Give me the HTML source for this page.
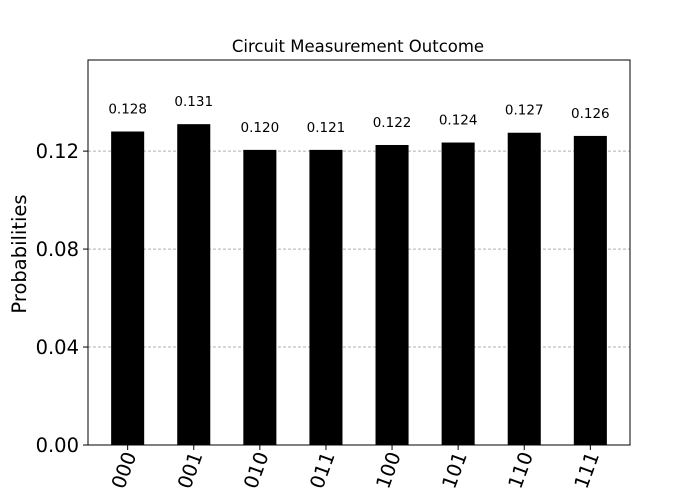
<!DOCTYPE html>
<html><head><meta charset="utf-8"><style>
body{margin:0;background:#fff;}
svg{display:block;font-family:"DejaVu Sans","Liberation Sans",sans-serif;}
</style></head><body>
<svg id="chart" width="700" height="500">
<text x="358" y="52" text-anchor="middle" font-size="16.5">Circuit Measurement Outcome</text>
<text transform="translate(26,254) rotate(-90)" text-anchor="middle" font-size="19.5">Probabilities</text>
<g id="grid"></g><g id="bars"></g><g id="labels"></g><g id="axes"></g>
</svg>
<script>
const categories=["000","001","010","011","100","101","110","111"];
const probabilities=[0.128,0.131,0.1205,0.1205,0.1225,0.1235,0.1275,0.1262];
const valueLabels=["0.128","0.131","0.120","0.121","0.122","0.124","0.127","0.126"];
const yTicks=[0,0.04,0.08,0.12];
const yTickLabels=["0.00","0.04","0.08","0.12"];
const L=88,R=630,T=60,B=445,NS="http://www.w3.org/2000/svg";
const yMax=0.131*1.2;
const xs=i=>L+(i+0.6)*(R-L)/(categories.length+0.2);
const ys=v=>B-v/yMax*(B-T);
const bw=0.5*(R-L)/(categories.length+0.2);
function mk(tag,attrs,parent){const e=document.createElementNS(NS,tag);for(const k in attrs)e.setAttribute(k,attrs[k]);document.getElementById(parent).appendChild(e);return e;}
yTicks.forEach((t,i)=>{
 if(t>0){const g=mk('line',{x1:L,x2:R,y1:ys(t),y2:ys(t),stroke:'#b0b0b0','stroke-dasharray':'3,2','stroke-width':1},'grid');
 
 }
 const tk=mk('line',{x1:L-5,x2:L,y1:ys(t),y2:ys(t),stroke:'#000'},'axes');
 
 
 const tl=mk('text',{x:L-9,y:ys(t)+7,'text-anchor':'end','font-size':19.5},'axes');tl.textContent=yTickLabels[i];
 
 
});
categories.forEach((c,i)=>{
 const x=xs(i),y=ys(probabilities[i]);
 const b=mk('rect',{x:x-bw/2,y:y,width:bw,height:B-y,fill:'#000'},'bars');
 
 
 const v=mk('text',{x:x,y:y-18,'text-anchor':'middle','font-size':13.5},'labels');v.textContent=valueLabels[i];
 
 
 const tk=mk('line',{x1:x,x2:x,y1:B,y2:B+5,stroke:'#000'},'axes');
 
 
 const tl=mk('text',{transform:`translate(${x+9},${B+10}) rotate(-70)`,'text-anchor':'end','font-size':19.5},'axes');tl.textContent=c;
 
 
});
const fr=mk('rect',{x:L,y:T,width:R-L,height:B-T,fill:'none',stroke:'#000','stroke-width':1},'axes');


</script>
</body></html>
